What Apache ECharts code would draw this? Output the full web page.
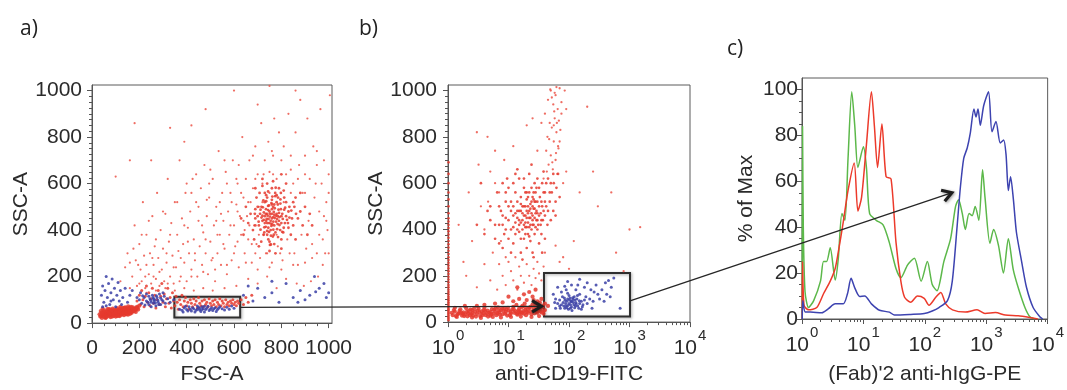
<!DOCTYPE html>
<html><head><meta charset="utf-8">
<script src="https://cdn.jsdelivr.net/npm/echarts@6/dist/echarts.min.js"></script>
<style>html,body{margin:0;padding:0;background:#fff}#c{width:1067px;height:390px}</style>
</head><body><div id="c"></div>
<script>
// ---------- tick labels ----------
const linTicks = [0, 200, 400, 600, 800, 1000];
const pctTicks = [0, 20, 40, 60, 80, 100];
const logTicks = [1, 10, 100, 1000, 10000];
const panelTitles = ['a)', 'b)', 'c)'];
const axisNames = {
  aX: 'FSC-A', aY: 'SSC-A', bX: 'anti-CD19-FITC', bY: 'SSC-A',
  cX: "(Fab)'2 anti-hIgG-PE", cY: '% of Max'
};

// ---------- panel a: FSC-A vs SSC-A (flat x,y pairs) ----------
const aRedBand = [35,28,40,45,42,22,48,35,50,55,55,30,58,42,60,25,63,50,66,38,70,30,72,60,75,44,78,26,80,52,83,35,86,40,88,62,90,30,93,48,96,36,98,55,100,28,103,44,105,65,108,38,110,50,113,32,115,58,118,42,120,70,123,36,125,48,128,60,130,40,133,52,135,34,138,66,140,45,143,56,145,38,148,62,150,48,153,72,155,42,158,55,160,64,163,46,166,58,170,50,173,68,176,54,180,62,185,48,190,70,195,58,200,75,32,38,37,52,44,30,52,48,57,22,62,40,68,52,74,34,79,46,85,28,91,56,97,42,102,34,107,58,112,46,117,30,122,55,127,44,132,66,137,50,142,40,147,54,152,36,157,66,162,52,168,44,174,60,182,56,188,64,45,62,53,40,65,60,77,58,89,46,101,50,111,40,121,62,131,56,141,68,151,58,161,40,171,62,38,32,46,42,54,26,61,34,69,44,76,38,84,54,92,40,99,46,106,30,114,52,119,48,126,38,134,46,139,58,146,46,154,52,159,48,165,70,178,52,186,60,193,66];
const aRedMid = [190,95,200,120,205,80,210,140,215,100,220,70,225,115,230,160,235,90,240,130,245,75,250,105,255,150,260,85,265,120,270,65,275,100,280,140,285,80,290,115,295,170,300,90,305,125,310,70,315,105,320,150,325,85,330,110,335,65,340,130,345,95,350,75,355,115,360,90,365,60,370,100,375,80,380,120,385,70,390,95,395,110,400,75,405,90,410,60,415,100,420,85,425,70,430,105,435,80,440,95,445,65,450,110,455,85,460,75,465,95,470,70,475,100,480,80,485,90,490,70,495,105,500,85,505,75,510,95,515,80,520,100,525,70,530,90,535,80,540,105,545,75,550,95,555,85,560,70,565,100,570,80,575,90,580,75,585,95,590,85,595,100,600,80,605,90,610,75,615,95,620,85,630,100,640,80,650,110,660,90,675,120];
const aRedDiffuse = [120,180,140,240,150,300,160,150,170,200,180,420,185,270,190,160,200,340,205,230,210,180,215,520,220,290,225,150,230,380,240,210,245,300,250,170,255,460,260,250,265,330,270,190,275,560,280,280,285,160,290,400,295,230,300,320,305,180,310,470,315,260,320,620,325,350,330,200,335,430,340,290,345,170,350,520,355,240,360,380,365,310,370,700,375,200,380,450,385,340,390,260,395,560,400,180,405,410,410,300,415,480,420,230,425,620,430,360,435,270,440,520,445,200,450,440,455,330,460,580,465,250,470,390,475,680,480,300,485,460,490,210,495,540,500,350,505,270,510,620,515,420,520,180,525,500,530,300,535,740,540,380,545,250,550,560,555,440,560,320,565,650,570,210,575,480,580,380,585,560,590,270,595,700,600,420,605,330,610,510,615,600,620,240,625,460,630,380,635,800,640,540,645,300,650,620,655,460,660,360,665,700,670,520,675,260,680,580,685,420,690,760,695,340,700,640,705,500,710,280,715,860,720,600,725,380,730,700,740,300,745,780,750,650,760,260,765,720,770,880,780,620,785,330,790,820,800,700,805,270,810,760,820,640,830,900,835,300,840,720,850,600,860,820,870,250,875,680,880,960,890,560,900,720,905,320,910,880,920,620,930,280,935,760,940,540,950,680,960,380,965,920,970,600,980,460,985,300,990,520,1000,640,1005,980,995,400,975,250,955,200,925,180,895,160,865,170,820,190,780,150,740,200,700,170,660,190,610,160,560,150,510,140,470,150,430,140,390,150,350,140,310,150,270,140,230,130,330,840,250,700,180,860,100,630,160,700,420,850,480,920,390,780,600,1000,700,940,860,1000,750,1020];
const aRedDiffuse2 = [160,260,175,320,195,250,210,380,225,200,240,440,255,280,270,360,285,220,300,480,315,300,330,380,345,240,360,520,375,280,390,420,405,350,420,560,435,300,450,500,465,420,480,360,495,600,510,280,525,440,540,520,555,340,570,600,585,420,600,300,615,480,630,560,645,400,660,520,675,340,690,620,705,380,720,520,735,300,750,560,765,640,780,380,795,300,810,520,825,360,840,560,855,300,870,620,885,380,900,560,915,440,930,340,945,600,960,480,975,360,990,440,1000,560,620,680,680,720,560,700,500,660,440,640,400,600,760,740,840,660,900,640,950,740,980,700,650,260,700,230,750,240,800,230,850,250,900,260,950,300,1000,300,570,250,520,230,470,220,420,200,370,180,320,170,260,200,230,250,200,170,615,350,545,470,485,530,665,420,725,640,690,300,640,440,590,520,530,380,610,620];
const aRedCluster = [760,450,740,430,780,470,750,480,770,420,730,460,790,440,755,400,765,500,720,440,800,460,745,410,775,390,735,490,785,510,710,470,815,430,760,530,725,380,795,400,705,420,830,480,750,350,780,550,700,500,820,520,740,540,770,340,690,450,845,450,760,580,715,350,800,360,680,400,855,500,730,560,790,580,670,470,830,410,750,310,810,570,695,540,870,450,765,610,685,360,840,380,720,590,800,320,660,430,860,540,740,600,775,300,705,330,880,480,650,500,820,600,690,580,890,420,745,360,785,460,755,440,768,478,742,462,792,422,728,412,812,488,758,516,736,524,778,436,806,448,722,498,764,372,796,532,748,392,782,404,716,454,834,454,770,510,738,448,752,470,788,488,762,424,726,476,804,392,744,504,774,546,712,402,824,444,756,338,798,490,734,414,786,370,700,460,850,420,760,470,748,430,772,452,730,520,810,410,740,380,780,520,690,490,900,500,910,380,920,470,930,420,640,380,630,450,880,560,860,360,720,620,800,640];
const aRedCluster2 = [752,458,766,436,744,486,778,462,736,440,790,474,758,418,772,494,730,430,804,470,748,506,784,426,720,462,816,496,762,544,740,396,796,514,712,488,828,430,756,376,774,560,704,436,842,484,766,402,724,528,808,390,744,566,690,420,850,520,760,490,746,448,782,448,734,470,770,466,756,428,792,456,726,444,760,510,800,430,716,500,834,500,768,380,736,550,688,470,820,460,776,582,752,336,798,560,708,560,862,470,740,470,786,540,728,390,812,540,766,456];
const aBlue = [40,120,45,160,50,90,55,140,60,200,65,110,70,170,75,80,80,130,85,190,90,100,95,150,100,70,105,120,110,175,115,95,120,140,125,80,130,110,140,150,150,90,160,120,170,140,60,75,80,95,45,70,200,100,210,85,220,110,230,95,240,80,245,105,250,90,255,120,260,85,265,100,270,75,275,110,280,90,285,125,290,80,295,100,300,95,305,115,310,85,230,125,240,115,250,70,260,105,262,95,268,88,272,118,278,98,282,80,258,110,248,98,236,90,224,78,214,118,290,108,300,130,320,105,330,90,190,110,205,130,345,100,370,60,380,55,390,65,400,58,410,70,420,52,430,62,440,55,450,68,460,50,470,62,480,58,490,72,500,60,510,54,520,66,530,58,540,70,550,62,560,56,570,68,580,60,590,74,600,64,385,48,405,52,425,66,445,60,455,56,465,70,475,48,485,64,495,54,505,66,515,62,525,50,535,64,445,74,415,60,395,72,435,48,465,58,455,64,475,72,640,120,680,95,700,150,730,110,760,130,790,90,820,170,850,110,880,140,900,100,920,120,940,200,960,150,980,170,1000,130,870,90,760,180,660,160,990,110,945,135];
const aGate = [[348, 24], [626, 113]];

// ---------- panel b: anti-CD19-FITC (log) vs SSC-A ----------
const bRedEdgeY = [8,14,20,26,32,38,44,50,56,62,70,78,86,94,102,110,120,130,140,150,160,172,184,196,208,220,232,244,256,268,280,294,308,322,336,350,364,378,392,406,420,434,448,470,500,530,560,600,640,690];
const bRedBottom = [1.2,30,1.3,45,1.4,22,1.5,38,1.6,55,1.7,28,1.8,42,1.9,33,2.0,60,2.1,25,2.2,48,2.4,36,2.5,52,2.6,28,2.8,44,3.0,35,3.2,58,3.4,26,3.6,46,3.8,38,4.0,62,4.2,30,4.5,50,4.8,40,5.0,28,5.3,56,5.6,36,6.0,46,6.3,30,6.7,64,7.0,42,7.5,52,8.0,34,8.5,58,9.0,44,9.5,28,10,50,11,38,12,66,13,46,14,32,15,58,16,42,17,70,18,36,19,52,20,44,22,62,24,34,26,50,28,72,30,40,32,56,34,46,36,64,38,36,40,52,1.25,52,1.45,34,1.65,40,1.85,26,2.05,44,2.3,30,2.7,58,2.9,24,3.3,42,3.7,30,4.1,48,4.6,24,5.1,44,5.8,54,6.5,38,7.2,32,7.8,60,8.8,36,9.8,62,10.5,30,11.5,54,12.5,40,13.5,74,14.5,50,15.5,36,16.5,64,17.5,48,18.5,80,19.5,30,21,56,23,46,25,76,27,38,29,60,31,48,33,84,35,42,37,70,12,90,15,100,20,95,25,110,18,120,30,90,8,85,10,110,22,130,35,100,6,80,28,140,14,150,4,75,3,70,26,95,40,80,45,70,1.3,62,1.9,70,2.5,20,3.5,18,5.5,22,7.5,20,11,22,16,24,24,22,32,26,1.15,40,1.35,26,1.55,48,1.75,36,2.15,38,2.35,54,2.55,40,3.1,50,3.9,52,4.4,38,5.2,34,6.1,60,6.9,50,8.2,48,9.2,54,10.8,44,12.2,56,13.8,36,15,46,17,40,19,64,21,40,23,66,26,58,29,44,34,60,38,48];
const bRedCluster = [20,450,18,420,22,480,15,440,25,460,17,500,24,400,13,470,28,520,19,380,21,540,12,410,30,470,16,360,26,560,11,480,32,500,14,520,23,350,35,440,10,440,27,600,18,580,9,400,38,560,20,320,13,560,40,520,16,300,30,620,8,460,25,300,45,480,12,340,22,640,7,420,35,380,15,620,50,600,19,460,21,430,17,470,23,450,19,500,24,520,26,490,14,400,29,440,16,480,22,410,28,470,33,540,20,560,18,360,27,380,31,420,12,500,36,500,21,500,25,420,15,390,23,510,19,430,42,600,55,640,48,560,38,650,44,420,60,520,6,360,9,520,11,300,7,500,32,340,26,280,17,270,40,360,13,640,5,440,8,320,10,580,24,680,36,300,29,580,18,620,22,370,30,400,14,450,20,410,25,540,27,450,16,430,34,470];
const bRedCluster2 = [5,500,6,420,6.5,560,7,340,7.5,480,8,600,8.5,380,9,450,9.5,620,10,360,11,520,12,600,13,380,14,660,15,480,16,540,17,400,18,500,19,560,20,480,21,380,22,560,23,420,24,580,25,500,26,420,27,520,28,560,29,480,30,520,32,580,34,420,36,600,38,480,40,560,42,500,45,620,48,520,52,560,56,600,62,580,66,640,20,530,18,460,22,450,17,440,24,470,16,510,21,470,19,410,23,490,26,530,15,420,25,440,14,480,27,490,13,430,28,410,12,460,30,440,11,400,32,460,10,500,35,520,9,560,37,440,8,420,40,460,4,380,3.5,600,4.5,480,3,420,60,460,55,480,50,440,70,540];
const bRedColumn = [50,1000,60,980,45,960,70,1010,55,940,65,920,40,900,75,950,58,880,48,860,68,870,52,840,62,820,44,800,72,830,56,780,66,760,42,740,50,720,60,700,46,680,54,660,64,640,38,620,80,600,58,990,62,1015,52,970,75,900,57,910,47,790,67,750,53,690,43,650,85,1000,90,920,35,860,63,860,49,1005,56,850,70,780,61,730];
const bRedSparse = [2,200,2.5,350,3,150,3.5,500,4,250,4.5,800,5,180,5.5,300,6,600,6.5,140,7,250,7.5,350,8,200,8.5,700,9,160,10,260,11,220,12,180,13,280,14,140,15,240,16,200,18,170,20,250,22,200,24,160,26,230,28,190,30,260,32,210,35,180,38,240,40,300,3,820,2.2,560,1.5,420,1.8,260,4,400,6,740,5,650,3.2,680,4.6,520,7,560,9,280,30,740,20,850,25,880,12,760,100,230,150,560,200,930,300,500,500,560,1000,400,1500,410,800,220,600,300,120,350,90,650,250,650,60,330,70,260,80,280];
const bBlue = [100,80,90,70,110,90,80,85,120,75,95,100,105,60,130,85,85,60,115,105,75,75,140,70,92,90,125,95,70,95,150,80,100,115,110,65,88,80,135,100,65,80,160,90,98,55,118,85,78,110,145,60,102,95,128,70,60,100,170,75,95,125,112,50,82,70,138,115,72,60,180,95,106,75,122,110,58,85,200,80,90,140,150,120,75,130,220,100,130,140,250,90,110,160,300,120,180,150,85,155,350,140,400,170,280,160,450,180,200,170,500,150,320,100,240,60,160,55,60,60,55,120,65,150,420,120,380,90,260,130,140,160,95,175,700,60,550,190,480,110,150,185,230,140,108,88,96,72,86,94,124,62,116,98,104,104,92,62,132,78,84,104,148,92,70,70,166,66,190,110];
const bGate = [[38.6, 24], [1020, 212]];

// ---------- panel c: histograms, % of Max vs (Fab)'2 anti-hIgG-PE (log) ----------
const cGreen = [1.01,0,1.02,84,1.05,40,1.12,12,1.28,5,1.55,8,2.0,16.5,2.24,25,2.51,25,2.88,31,3.47,17,3.89,26,4.47,46,5.0,43,5.62,70,6.46,99,7.24,84,8.13,66,10,75,11.2,66,12.6,46,16.2,43,20.9,41,26.3,33.5,33.9,22,40.7,18,52.5,23.6,67.6,26.5,87.1,16.5,110,25,132,15,158,12.3,204,25,263,35,316,49,355,52,407,46,457,39,525,46,589,45,661,49,759,43,871,65,955,53,1148,33,1318,39,1585,32,1905,20,2291,35,2754,21.5,3311,13.7,4266,5,5129,1,6166,0];
const cRed = [1.01,0,1.02,25,1.08,6,1.28,4,1.74,5,2.24,11,2.88,16.5,3.47,22,3.89,29,4.68,42,5.62,56,7.08,68,8.13,47,9.33,53,11.2,76,13.5,99,15.1,84,17,66,20,85,23.4,62,28.2,61,33.9,33.5,40.7,16.5,46.8,9.5,58.9,7.3,75.9,10,97.7,9,117,6,151,9.5,182,11.6,219,6.6,282,4,457,3,708,4,955,2.4,1413,2.8,2042,1.7,3311,1.4,5495,0.5,6918,0];
const cBlue = [1.01,0,1.03,8,1.13,3,1.36,3,2.1,2.7,2.7,4.5,3.47,6.6,4.7,6.6,5.5,11,6.3,17.7,7.2,13.7,8.7,9.8,10.5,10,13.5,6.6,18.3,3.8,26.5,3,32,1.7,59,2,98,2.4,132,3.5,170,5,234,8,280,16.5,336,40.6,380,57.6,430,70,490,74.5,550,81,630,91.5,680,88,735,91.5,800,84.4,910,93,1090,99,1240,81.6,1440,86,1690,76.7,1920,78,2100,71.7,2290,56,2490,62,2770,52,3100,37.8,3770,25,4530,13.7,5800,5,7450,1,8300,0];

// ---------- arrows between panels (data coordinates of each panel) ----------
const arrowLinks = [
  { from: { panel: 0, pt: [626, 68] }, to: { panel: 1, pt: [35, 68] } },
  { from: { panel: 1, pt: [1020, 92] }, to: { panel: 2, pt: [275, 55] } }
];

// ---------- helpers ----------
function pairs(a) { const r = []; for (let i = 0; i < a.length; i += 2) r.push([a[i], a[i + 1]]); return r; }
function range(start, stop, step, skip) { const r = []; for (let v = start; v <= stop + 1e-9; v += step) { if (!skip.includes(v)) r.push(v); } return r; }
const logMinor = []; [1, 10, 100, 1000].forEach(d => { for (let k = 2; k <= 9; k++) logMinor.push(k * d); });

const FONT = 'Liberation Sans, Arial, sans-serif';
const TXT = '#2b2b2b';
const AX = '#555';
const RED = '#e53a2e', PINK = '#ec5448', BLUE = '#3a3fa6', GREEN = '#5cb84a', LRED = '#ec3a2b', LBLUE = '#3d43b0';

const grids = [
  { left: 92, top: 85, width: 240, height: 242 },
  { left: 448, top: 85, width: 242, height: 242 },
  { left: 802, top: 78, width: 248, height: 248 }
];

function labelStyle(extra) { return Object.assign({ color: TXT, fontFamily: FONT, fontSize: 21 }, extra || {}); }

function majorAxis(dim, gi, cfg) {
  const ax = {
    gridIndex: gi, type: cfg.type, min: cfg.min, max: cfg.max,
    position: dim === 'x' ? 'bottom' : 'left',
    name: cfg.name, nameLocation: 'middle', nameGap: cfg.nameGap,
    nameTextStyle: { color: TXT, fontFamily: FONT, fontSize: 21 },
    axisLine: { show: true, lineStyle: { color: AX, width: 1 } },
    axisTick: { show: true, length: 5, customValues: cfg.ticks, lineStyle: { color: AX } },
    axisLabel: labelStyle({ customValues: cfg.ticks, margin: cfg.margin, formatter: cfg.formatter || (v => String(v)), rich: cfg.rich }),
    splitLine: { show: false }
  };
  if (cfg.type === 'log') ax.logBase = 10;
  return ax;
}
function minorAxis(dim, gi, cfg) {
  const ax = {
    gridIndex: gi, type: cfg.type, min: cfg.min, max: cfg.max,
    position: dim === 'x' ? 'bottom' : 'left',
    axisLine: { show: false },
    axisTick: { show: true, length: 3, customValues: cfg.minor, lineStyle: { color: AX } },
    axisLabel: { show: false },
    splitLine: { show: false }
  };
  if (cfg.type === 'log') ax.logBase = 10;
  return ax;
}

const logFmt = v => '{b|10}{s|' + Math.round(Math.log10(v)) + '}';
const logRich = {
  b: { fontSize: 21, fontFamily: FONT, color: TXT, lineHeight: 22, verticalAlign: 'bottom' },
  s: { fontSize: 15, fontFamily: FONT, color: TXT, lineHeight: 15, verticalAlign: 'bottom', padding: [0, 0, 16, 1] }
};

const xCfg = [
  { type: 'value', min: 0, max: 1014, ticks: linTicks, minor: range(0, 1000, 50, linTicks), name: axisNames.aX, nameGap: 38, margin: 15 },
  { type: 'log', min: 1, max: 10000, ticks: logTicks, minor: logMinor, name: axisNames.bX, nameGap: 41, margin: 15, formatter: logFmt, rich: logRich },
  { type: 'log', min: 1, max: 10000, ticks: logTicks, minor: logMinor, name: axisNames.cX, nameGap: 45, margin: 15, formatter: logFmt, rich: logRich }
];
const yCfg = [
  { type: 'value', min: 0, max: 1024, ticks: linTicks, minor: range(0, 1000, 25, linTicks), name: axisNames.aY, nameGap: 50, margin: 10 },
  { type: 'value', min: 0, max: 1024, ticks: linTicks, minor: range(0, 1000, 25, linTicks), name: axisNames.bY, nameGap: 51, margin: 11 },
  { type: 'value', min: 0, max: 105, ticks: pctTicks, minor: range(0, 100, 5, pctTicks), name: axisNames.cY, nameGap: 45, margin: 4 }
];

const xAxis = [], yAxis = [];
for (let g = 0; g < 3; g++) {
  xAxis.push(majorAxis('x', g, xCfg[g])); xAxis.push(minorAxis('x', g, xCfg[g]));
  yAxis.push(majorAxis('y', g, yCfg[g])); yAxis.push(minorAxis('y', g, yCfg[g]));
}

function scatter(g, data, color, size, extra) {
  return Object.assign({
    type: 'scatter', xAxisIndex: g * 2, yAxisIndex: g * 2, data: data,
    symbol: 'circle', symbolSize: size, itemStyle: { color: color, opacity: 0.85 },
    silent: true, animation: false
  }, extra || {});
}
function gate(box) {
  return {
    silent: true,
    itemStyle: { color: 'rgba(0,0,0,0)', borderColor: '#2e2e2e', borderWidth: 2, shadowColor: 'rgba(0,0,0,0.35)', shadowBlur: 3, shadowOffsetX: 1, shadowOffsetY: 1 },
    data: [[{ coord: box[0] }, { coord: box[1] }]]
  };
}
function histLine(data, color) {
  return {
    type: 'line', xAxisIndex: 4, yAxisIndex: 4, data: pairs(data), showSymbol: false, symbol: 'none',
    smooth: 0.25, lineStyle: { color: color, width: 1.5 }, silent: true, animation: false
  };
}

const series = [
  scatter(0, pairs(aRedDiffuse).concat(pairs(aRedDiffuse2)), PINK, 2.2),
  scatter(0, pairs(aRedCluster).concat(pairs(aRedCluster2)), RED, 2.8),
  scatter(0, pairs(aRedMid), RED, 3),
  scatter(0, pairs(aRedBand), RED, 4.2),
  scatter(0, pairs(aBlue), BLUE, 3, { markArea: gate(aGate) }),
  scatter(1, bRedEdgeY.map(y => [1.02, y]), RED, 2.6),
  scatter(1, pairs(bRedSparse).concat(pairs(bRedColumn)), PINK, 2.3),
  scatter(1, pairs(bRedCluster).concat(pairs(bRedCluster2)), RED, 2.7),
  scatter(1, pairs(bRedBottom), RED, 4.2),
  scatter(1, pairs(bBlue), BLUE, 3, { markArea: gate(bGate) }),
  histLine(cGreen, GREEN),
  histLine(cRed, LRED),
  histLine(cBlue, LBLUE)
];

const titlePos = [[15, 14], [354, 14], [722, 34]];
const title = panelTitles.map((t, i) => ({
  text: t, left: titlePos[i][0], top: titlePos[i][1],
  textStyle: { fontFamily: 'Open Sans, Lato, sans-serif', fontSize: 21, fontWeight: 'normal', color: '#222' }
}));

const chart = echarts.init(document.getElementById('c'), null, { renderer: 'canvas' });
chart.setOption({
  animation: false, backgroundColor: '#fff', title: title,
  grid: grids.map(g => Object.assign({ show: true, borderColor: '#5a5a5a', borderWidth: 1, backgroundColor: 'transparent', containLabel: false }, g)),
  xAxis: xAxis, yAxis: yAxis, series: series
});

// arrows computed from the panels' own scales
function toPx(p) { return chart.convertToPixel({ xAxisIndex: p.panel * 2, yAxisIndex: p.panel * 2 }, p.pt); }
const graphics = [];
arrowLinks.forEach(link => {
  const a = toPx(link.from), b = toPx(link.to);
  const dx = b[0] - a[0], dy = b[1] - a[1], len = Math.hypot(dx, dy);
  const ux = dx / len, uy = dy / len;
  const head = 11, ang = 0.55;
  const rot = (s) => [ux * Math.cos(s) - uy * Math.sin(s), ux * Math.sin(s) + uy * Math.cos(s)];
  const r1 = rot(ang), r2 = rot(-ang);
  graphics.push({ type: 'line', shape: { x1: a[0], y1: a[1], x2: b[0] - ux * 2, y2: b[1] - uy * 2 }, style: { stroke: '#262626', lineWidth: 1.3 }, z: 100, silent: true });
  graphics.push({
    type: 'polyline', shape: { points: [[b[0] - r1[0] * head, b[1] - r1[1] * head], [b[0], b[1]], [b[0] - r2[0] * head, b[1] - r2[1] * head]] },
    style: { stroke: '#1e1e1e', lineWidth: 3.2, fill: null, lineJoin: 'miter', shadowColor: 'rgba(0,0,0,0.4)', shadowBlur: 3, shadowOffsetX: 1, shadowOffsetY: 1 }, z: 101, silent: true
  });
});
chart.setOption({ graphic: graphics });
</script>
</body></html>
